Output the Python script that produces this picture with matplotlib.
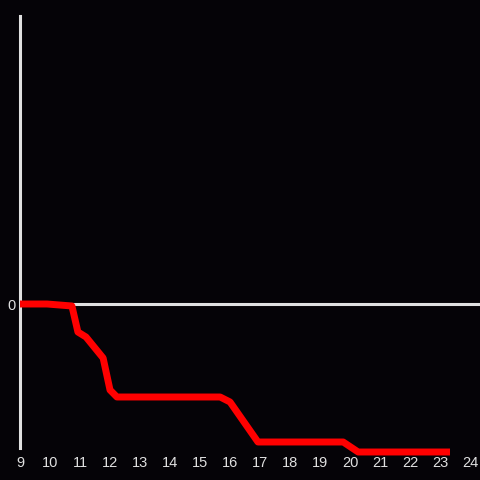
import matplotlib
matplotlib.use('Agg')
import matplotlib.pyplot as plt

# values (x in hours, y in arbitrary units, 0 = baseline)
hours = [9.0, 9.9, 10.73, 10.93, 11.2, 11.77, 12.0, 12.23, 15.67, 16.0, 16.93, 19.77, 20.27, 23.33]
values = [0.0, 0.0, -0.2, -2.8, -3.3, -5.4, -8.6, -9.3, -9.3, -9.8, -13.8, -13.8, -14.8, -14.8]
xticks = list(range(9, 25))

bg = '#050307'
fg = '#e0e0e0'

plt.rcParams['font.family'] = ['Liberation Sans', 'DejaVu Sans']

fig = plt.figure(figsize=(4.8, 4.8), dpi=100, facecolor=bg)
ax = fig.add_axes([20 / 480, 32 / 480, 460 / 480, 432 / 480])
ax.set_facecolor(bg)

ax.axhline(0, color=fg, lw=2.2, zorder=1)
ax.plot(hours, values, color='#ff0000', lw=5, solid_joinstyle='round',
        solid_capstyle='butt', clip_on=False, zorder=3)

ax.set_xlim(9, 24.33)
ax.set_ylim(-14.4, 28.8)
ax.set_xticks(xticks)
ax.set_yticks([0])

for side in ['top', 'right', 'bottom']:
    ax.spines[side].set_visible(False)
ax.spines['left'].set_color(fg)
ax.spines['left'].set_linewidth(2.2)

ax.tick_params(axis='both', length=0, colors=fg, labelsize=10.5)
ax.tick_params(axis='x', pad=6)
ax.tick_params(axis='y', pad=3)

fig.savefig('out.png', dpi=100, facecolor=bg)
